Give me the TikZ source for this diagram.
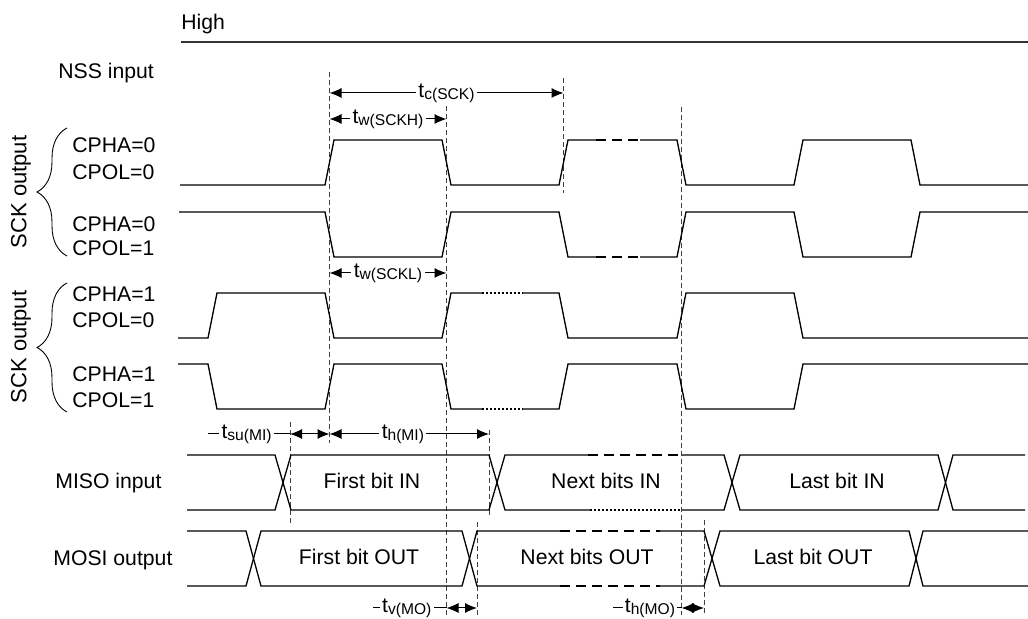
\documentclass[tikz,border=0pt]{standalone}
\usepackage{fontspec}
\setmainfont{Liberation Sans}
\usetikzlibrary{decorations.pathreplacing, arrows.meta}

\tikzset{
    wave/.style={line width=0.65pt},
    gapdash/.style={wave, dash pattern=on 5pt off 3pt},
    gapdot/.style={wave, dash pattern=on 1pt off 1pt},
    guide/.style={black!75, line width=0.5pt, dash pattern=on 2.5pt off 1.5pt},
    dim/.style={{Latex[length=6pt,width=5pt]}-{Latex[length=6pt,width=5pt]}, line width=0.5pt},
    lead/.style={line width=0.5pt},
    tlab/.style={fill=white, inner xsep=1.2pt, inner ysep=0.5pt, font=\fontsize{10.5}{12}\selectfont},
    sig/.style={anchor=base west, inner sep=0pt, font=\fontsize{10.6}{12}\selectfont},
    bit/.style={anchor=base, inner sep=0pt, font=\fontsize{10.6}{12}\selectfont},
    grp/.style={decorate, decoration={brace, amplitude=15pt}, line width=0.45pt},
}
\newcommand{\tsym}[1]{t\raisebox{-1pt}{\fontsize{7.8}{8}\selectfont #1}}

\begin{document}
\begin{tikzpicture}[x=0.5pt, y=-0.5pt]
    \useasboundingbox (0,0) rectangle (1028,619);

    % NSS line
    \node[sig] (high) at (181,30) {High};
    \draw[line width=0.75pt, black!80] (181,42) -- (1028,42);
    \node[sig] (nss) at (58,79) {NSS input};

    % left labels
    \node[sig] (phaA) at (72,153) {CPHA=0};
    \node[sig] (polA) at (72,180) {CPOL=0};
    \node[sig] (phaB) at (72,232) {CPHA=0};
    \node[sig] (polB) at (72,256) {CPOL=1};
    \node[sig] (phaC) at (72,302) {CPHA=1};
    \node[sig] (polC) at (72,328) {CPOL=0};
    \node[sig] (phaD) at (72,382) {CPHA=1};
    \node[sig] (polD) at (72,408) {CPOL=1};
    \draw[grp] (67,256) -- (67,128);
    \draw[grp] (67,412) -- (67,283);
    \node[bit, anchor=center, rotate=90, font=\fontsize{11}{12}\selectfont] (sckA) at (21,192) {SCK output};
    \node[bit, anchor=center, rotate=90, font=\fontsize{11}{12}\selectfont] (sckB) at (21,347) {SCK output};
    \node[sig] (miso) at (55,489) {MISO input};
    \node[sig] (mosi) at (53,566) {MOSI output};

    % guides
    \draw[guide] (329.5,72) -- (329.5,443);
    \draw[guide] (446.5,106) -- (446.5,615);
    \draw[guide] (563.5,78) -- (563.5,193);
    \draw[guide] (681.5,107) -- (681.5,615);
    \draw[guide] (290,422) -- (290,523);
    \draw[guide] (489,430) -- (489,517);
    \draw[guide] (477,522) -- (477,615);
    \draw[guide] (704,520) -- (704,615);

    % SCK, CPHA=0 CPOL=0
    \draw[wave] (180,185) -- (325,185) -- (334,140) -- (442,140) -- (451,185) -- (559,185) -- (568,140) -- (596,140);
    \draw[gapdash] (596,140) -- (640,140);
    \draw[wave] (640,140) -- (677,140) -- (686,185) -- (794,185) -- (803,140) -- (911,140) -- (920,185) -- (1028,185);
    % SCK, CPHA=0 CPOL=1
    \draw[wave] (179,212) -- (325,212) -- (334,257) -- (442,257) -- (451,212) -- (559,212) -- (568,257) -- (596,257);
    \draw[gapdash] (596,257) -- (640,257);
    \draw[wave] (640,257) -- (677,257) -- (686,212) -- (794,212) -- (803,257) -- (911,257) -- (920,212) -- (1028,212);
    % SCK, CPHA=1 CPOL=0
    \draw[wave] (178,338) -- (208,338) -- (217,293) -- (325,293) -- (334,338) -- (442,338) -- (451,293) -- (482,293);
    \draw[gapdot] (482,293) -- (523,293);
    \draw[wave] (523,293) -- (559,293) -- (568,338) -- (677,338) -- (686,293) -- (794,293) -- (803,338) -- (1028,338);
    % SCK, CPHA=1 CPOL=1
    \draw[wave] (178,364) -- (208,364) -- (217,409) -- (325,409) -- (334,364) -- (442,364) -- (451,409) -- (482,409);
    \draw[gapdot] (482,409) -- (523,409);
    \draw[wave] (523,409) -- (559,409) -- (568,364) -- (677,364) -- (686,409) -- (794,409) -- (803,364) -- (1028,364);

    % MISO
    \draw[wave] (187,455) -- (275,455) -- (291,510) -- (489,510) -- (505,455) -- (588,455);
    \draw[gapdash] (588,455) -- (682,455);
    \draw[wave] (682,455) -- (724,455) -- (740,510) -- (938,510) -- (953,455) -- (1025,455);
    \draw[wave] (187,510) -- (275,510) -- (291,455) -- (489,455) -- (505,510) -- (590,510);
    \draw[gapdot] (590,510) -- (682,510);
    \draw[wave] (682,510) -- (724,510) -- (740,455) -- (938,455) -- (953,510) -- (1025,510);
    \node[bit] (inA) at (372,489) {First bit IN};
    \node[bit] (inB) at (606,489) {Next bits IN};
    \node[bit] (inC) at (837,489) {Last bit IN};

    % MOSI
    \draw[wave] (187,531) -- (246,531) -- (261,586) -- (462,586) -- (477,531) -- (560,531);
    \draw[gapdash] (560,531) -- (660,531);
    \draw[wave] (660,531) -- (704,531) -- (720,586) -- (909,586) -- (923,531) -- (1028,531);
    \draw[wave] (187,586) -- (246,586) -- (261,531) -- (462,531) -- (477,586) -- (560,586);
    \draw[gapdash] (560,586) -- (660,586);
    \draw[wave] (660,586) -- (704,586) -- (720,531) -- (909,531) -- (923,586) -- (1028,586);
    \node[bit] (outA) at (359,565) {First bit OUT};
    \node[bit] (outB) at (587,565) {Next bits OUT};
    \node[bit] (outC) at (813,565) {Last bit OUT};

    % timings
    \draw[dim] (329.5,93) -- (563.5,93) node[tlab, midway] (tc) {\tsym{c(SCK)}};
    \draw[dim] (329.5,119) -- (446.5,119) node[tlab, midway] (twh) {\tsym{w(SCKH)}};
    \draw[dim] (329.5,273) -- (446.5,273) node[tlab, midway] (twl) {\tsym{w(SCKL)}};
    \draw[lead] (208,434) -- (290,434) node[tlab, pos=0.47] (tsu) {\tsym{su(MI)}};
    \draw[dim] (290,434) -- (329.5,434);
    \draw[dim] (329.5,434) -- (489,434) node[tlab, pos=0.46] (thmi) {\tsym{h(MI)}};
    \draw[lead] (373,608) -- (446.5,608) node[tlab, pos=0.46] (tv) {\tsym{v(MO)}};
    \draw[dim] (446.5,608) -- (477,608);
    \draw[lead] (613,608) -- (681.5,608) node[tlab, pos=0.54] (thmo) {\tsym{h(MO)}};
    \draw[dim] (681.5,608) -- (704,608);
\end{tikzpicture}
\end{document}
